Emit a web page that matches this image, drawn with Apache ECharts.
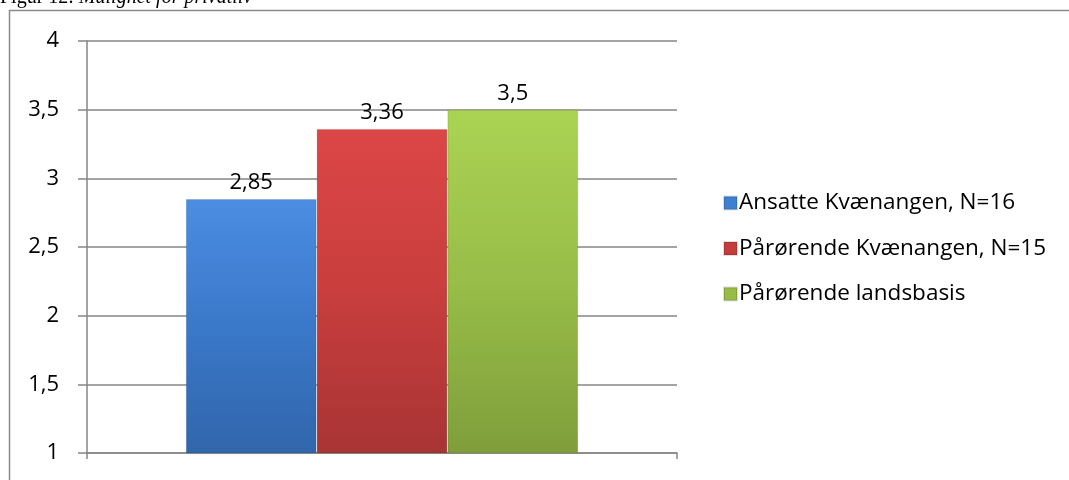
<!DOCTYPE html>
<html>
<head>
<meta charset="utf-8">
<script src="https://cdn.jsdelivr.net/npm/echarts@6/dist/echarts.min.js"></script>
<style>
  html, body { margin: 0; padding: 0; background: #fff; }
  #chart { width: 1069px; height: 480px; }
</style>
</head>
<body>
<div id="chart"></div>
<script>
// data
const categories = ['']
const seriesNames = ['Ansatte Kvænangen, N=16', 'Pårørende Kvænangen, N=15', 'Pårørende landsbasis']
const seriesValues = [[2.85], [3.36], [3.5]]
const yTicks = { min: 1, max: 4, interval: 0.5 }

const colors = [
  ['#4c8de2', '#3a78c9', '#3166ab'],
  ['#dc4646', '#c93e3e', '#a83434'],
  ['#abd353', '#98bd48', '#7f9e3b']
]
const legendColors = ['#3f7fcf', '#c53c3c', '#96bb46']

const chart = echarts.init(document.getElementById('chart'))

const fmt = v => String(v).replace('.', ',')

const series = seriesNames.map((name, i) => ({
  name: name,
  type: 'bar',
  data: seriesValues[i],
  barGap: '0%',
  barCategoryGap: '33.5%',
  itemStyle: {
    color: new echarts.graphic.LinearGradient(0, 0, 0, 1, [
      { offset: 0, color: colors[i][0] },
      { offset: 0.5, color: colors[i][1] },
      { offset: 1, color: colors[i][2] }
    ]),
    borderColor: 'rgba(0,0,0,0.12)',
    borderWidth: 1
  },
  label: {
    show: true,
    position: 'top',
    distance: 5,
    fontFamily: 'Open Sans',
    fontSize: 22,
    color: '#000',
    formatter: p => fmt(p.value)
  }
}))

const option = {
  animation: false,
  textStyle: { fontFamily: 'Open Sans' },
  graphic: [
    {
      type: 'text',
      left: 0,
      top: -12,
      style: {
        text: '{n|Figur 12: }{i|Mulighet for privatliv}',
        rich: {
          n: { font: '20px "Liberation Serif"', fill: '#000' },
          i: { font: 'italic 20px "Liberation Serif"', fill: '#000' }
        }
      }
    },
    {
      type: 'polyline',
      shape: { points: [[9.5, 490], [9.5, 10.5], [1080, 10.5]] },
      style: { stroke: '#8a8a8a', lineWidth: 1.5, fill: null }
    }
  ],
  legend: {
    orient: 'vertical',
    left: 718,
    top: 186,
    itemGap: 21.5,
    itemWidth: 13,
    itemHeight: 13,
    icon: 'rect',
    textStyle: { fontFamily: 'Open Sans', fontSize: 22.5, lineHeight: 24, color: '#000', padding: [0, 0, 0, -3] },
    data: seriesNames.map((n, i) => ({ name: n, itemStyle: { color: legendColors[i] } }))
  },
  grid: {
    left: 87,
    top: 41,
    width: 590,
    height: 412,
    containLabel: false
  },
  xAxis: {
    type: 'category',
    data: categories,
    axisLine: { lineStyle: { color: '#868686', width: 1.5 } },
    axisTick: { show: true, length: 6, lineStyle: { color: '#868686', width: 1.5 } },
    axisLabel: { show: false }
  },
  yAxis: {
    type: 'value',
    min: yTicks.min,
    max: yTicks.max,
    interval: yTicks.interval,
    axisLine: { show: true, lineStyle: { color: '#868686', width: 1.5 } },
    axisTick: { show: true, length: 9, lineStyle: { color: '#868686', width: 1.5 } },
    axisLabel: {
      fontFamily: 'Open Sans',
      fontSize: 22,
      color: '#000',
      margin: 28,
      formatter: v => fmt(v)
    },
    splitLine: { lineStyle: { color: '#868686', width: 1.5 } }
  },
  series: series
}

chart.setOption(option)
</script>
</body>
</html>
